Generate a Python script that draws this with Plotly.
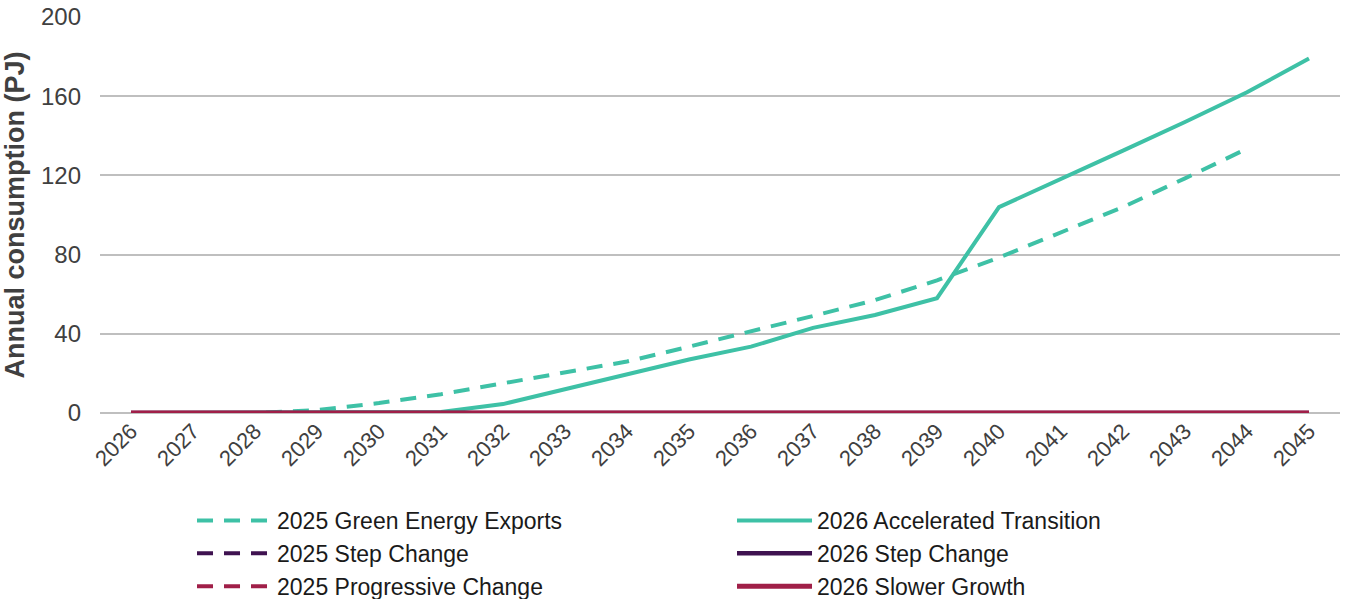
import plotly.graph_objects as go

years = [str(y) for y in range(2026, 2046)]

gee_2025 = [0, 0, 0, 1.5, 5, 9.5, 15, 20, 26, 33.5, 41, 49, 57, 67, 78.5, 91, 104, 118.5, 133.5]
step_2025 = [0] * 19
prog_2025 = [0] * 19
acc_2026 = [0, 0, 0, 0, 0, 0.5, 4.5, 12, 20, 27, 33.5, 43, 49.5, 58, 104, 118, 132.5, 147, 162, 179]
step_2026 = [0] * 20
slow_2026 = [0] * 20

teal = "#3EC1A6"
purple = "#3F1250"
red = "#A01F48"

series = [
    ("2025 Green Energy Exports", years[:19], gee_2025, teal, "16px,11px", 4),
    ("2026 Accelerated Transition", years, acc_2026, teal, "solid", 4),
    ("2025 Step Change", years[:19], step_2025, purple, "16px,11px", 4),
    ("2026 Step Change", years, step_2026, purple, "solid", 4.5),
    ("2025 Progressive Change", years[:19], prog_2025, red, "16px,11px", 4),
    ("2026 Slower Growth", years, slow_2026, red, "solid", 5),
]

fig = go.Figure()
for name, x, y, c, d, w in series:
    fig.add_trace(go.Scatter(x=x, y=y, name=name, mode="lines",
                             line=dict(color=c, width=w, dash=d)))

fig.update_layout(
    width=1346, height=599,
    margin=dict(l=100, r=6, t=17, b=186, autoexpand=False),
    plot_bgcolor="white", paper_bgcolor="white",
    font=dict(family="Arial, Liberation Sans, sans-serif", color="#404040"),
    showlegend=True,
    legend=dict(orientation="h", x=0.0742, xanchor="left", y=-0.217, yanchor="top",
                entrywidth=450, entrywidthmode="pixels", itemwidth=75,
                font=dict(size=23, color="#1a1a1a"), tracegroupgap=0,
                traceorder="normal"),
)
fig.update_xaxes(type="category", categoryorder="array", categoryarray=years,
                 tickangle=-45, tickfont=dict(size=22, color="#404040"),
                 showgrid=False, showline=False, ticks="", range=[-0.5, 19.5],
                 automargin=False)
fig.update_yaxes(range=[0, 200], tickvals=[0, 40, 80, 120, 160, 200],
                 tickfont=dict(size=24, color="#404040"), automargin=False,
                 gridcolor="#BFBFBF", gridwidth=1.5, zeroline=True,
                 zerolinecolor="#BFBFBF", zerolinewidth=1.5,
                 ticklabelstandoff=18,
                 title=dict(text="<b>Annual consumption (PJ)</b>",
                            font=dict(size=27, color="#404040"), standoff=10))

fig.write_html("out.html")
